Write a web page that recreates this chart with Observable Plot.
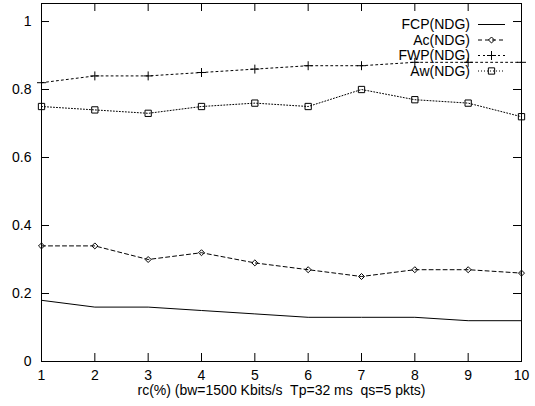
<!DOCTYPE html>
<html>
<head>
<meta charset="utf-8">
<script src="https://cdn.jsdelivr.net/npm/d3@7"></script>
<script src="https://cdn.jsdelivr.net/npm/@observablehq/plot@0.6"></script>
<style>
  html, body { margin: 0; padding: 0; background: #fff; }
  svg text { white-space: pre; }
</style>
</head>
<body>
<div id="chart"></div>
<script>
const xs = [1, 2, 3, 4, 5, 6, 7, 8, 9, 10];
const fcp = [0.18, 0.16, 0.16, 0.15, 0.14, 0.13, 0.13, 0.13, 0.12, 0.12];
const ac  = [0.34, 0.34, 0.30, 0.32, 0.29, 0.27, 0.25, 0.27, 0.27, 0.26];
const fwp = [0.82, 0.84, 0.84, 0.85, 0.86, 0.87, 0.87, 0.88, 0.88, 0.88];
const aw  = [0.75, 0.74, 0.73, 0.75, 0.76, 0.75, 0.80, 0.77, 0.76, 0.72];
const seriesNames = ["FCP(NDG)", "Ac(NDG)", "FWP(NDG)", "Aw(NDG)"];
const yTicks = [0, 0.2, 0.4, 0.6, 0.8, 1];
const xLabel = "rc(%) (bw=1500 Kbits/s  Tp=32 ms  qs=5 pkts)";

const styles = {
  "FCP(NDG)": {dash: null, symbol: null, r: 0},
  "Ac(NDG)":  {dash: "4,3", symbol: "diamond2", r: 2.7},
  "FWP(NDG)": {dash: "2,3", symbol: "plus", r: 3},
  "Aw(NDG)":  {dash: "1,2", symbol: "square2", r: 4}
};
const values = [fcp, ac, fwp, aw];
const rows = seriesNames.map((name, i) => xs.map((x, j) => ({x, y: values[i][j], s: name})));

const W = 535, H = 406;
const mL = 41, mR = 14, mT = 3, mB = 45;
const pw = W - mL - mR, ph = H - mT - mB;
const tl = 8;

const marks = [];
seriesNames.forEach((name, i) => {
  const st = styles[name];
  marks.push(Plot.line(rows[i], {x: "x", y: "y", stroke: "black", strokeWidth: 1, strokeDasharray: st.dash}));
  if (st.symbol) marks.push(Plot.dot(rows[i], {x: "x", y: "y", symbol: st.symbol, r: st.r, stroke: "black", strokeWidth: 1, fill: "none"}));
});

const plot = Plot.plot({
  width: W, height: H,
  marginLeft: mL, marginRight: mR, marginTop: mT, marginBottom: mB,
  style: {fontFamily: "'Liberation Sans', Arial, Helvetica, sans-serif", fontSize: "14px", background: "white", color: "black"},
  x: {domain: [1, 10], type: "linear"},
  y: {domain: [0, 1.053], type: "linear"},
  marks: [
    ...marks,
    Plot.frame({stroke: "black", strokeWidth: 1}),
    Plot.tickY(yTicks, {y: d => d, insetRight: pw - tl, stroke: "black"}),
    Plot.tickY(yTicks, {y: d => d, insetLeft: pw - tl, stroke: "black"}),
    Plot.tickX(xs, {x: d => d, insetTop: ph - tl, stroke: "black"}),
    Plot.tickX(xs, {x: d => d, insetBottom: ph - tl, stroke: "black"}),
    Plot.axisY(yTicks, {tickSize: 0, tickPadding: 10, tickFormat: d => String(d), label: null, fontSize: 14}),
    Plot.axisX(xs, {tickSize: 0, tickPadding: 9, tickFormat: d => String(d), label: null, fontSize: 14}),
    Plot.text([xLabel], {text: d => d, frameAnchor: "bottom", dy: 33, fontSize: 14, fill: "black"})
  ]
});
document.getElementById("chart").appendChild(plot);

// Legend (top-right, inside frame)
const svg = d3.select(plot);
const lg = svg.append("g").attr("font-family", "'Liberation Sans', Arial, Helvetica, sans-serif").attr("font-size", 14);
const textX = 470, lineX1 = 478, lineX2 = 505;
seriesNames.forEach((name, i) => {
  const st = styles[name];
  const yy = 24.5 + i * 15.5;
  lg.append("text").attr("x", textX).attr("y", yy).attr("dy", "0.35em").attr("text-anchor", "end").attr("fill", "black").text(name);
  lg.append("line").attr("x1", lineX1).attr("x2", lineX2).attr("y1", yy).attr("y2", yy)
    .attr("stroke", "black").attr("stroke-width", 1).attr("stroke-dasharray", st.dash);
  if (st.symbol) {
    const sym = {diamond2: d3.symbolDiamond2, plus: d3.symbolPlus, square2: d3.symbolSquare2}[st.symbol];
    lg.append("path").attr("transform", `translate(${(lineX1 + lineX2) / 2},${yy})`)
      .attr("d", d3.symbol(sym, st.r * st.r * Math.PI)()).attr("fill", "none").attr("stroke", "black");
  }
});
</script>
</body>
</html>
